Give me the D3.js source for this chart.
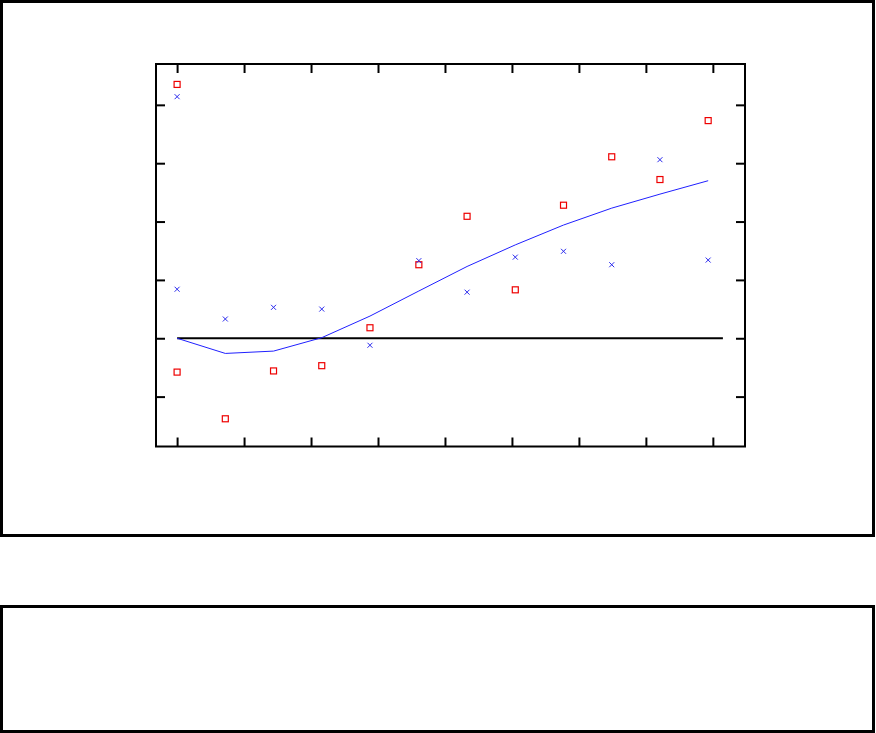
<!DOCTYPE html>
<html>
<head>
<meta charset="utf-8">
<script src="https://cdn.jsdelivr.net/npm/d3@7"></script>
<style>
	html, body { margin: 0; padding: 0; background: #fff; }
	svg { display: block; }
</style>
</head>
<body>
<svg id="chart" width="876" height="733"></svg>
<script>
// tick values (no labels in the original)
const xTicks = [0, 1, 2, 3, 4, 5, 6, 7, 8];
const yTicks = [-1, 0, 1, 2, 3, 4];

// red squares
const squareX = [0, 0, 0.72, 1.44, 2.16, 2.88, 3.61, 4.33, 5.05, 5.77, 6.49, 7.21, 7.93];
const squareY = [4.35, -0.58, -1.38, -0.56, -0.47, 0.18, 1.26, 2.09, 0.83, 2.28, 3.11, 2.72, 3.73];

// blue crosses
const crossX = [0, 0, 0.72, 1.44, 2.16, 2.88, 3.61, 4.33, 5.05, 5.77, 6.49, 7.21, 7.93];
const crossY = [4.14, 0.84, 0.33, 0.53, 0.50, -0.12, 1.33, 0.79, 1.39, 1.49, 1.26, 3.06, 1.34];

// blue trend line
const lineX = [0, 0.72, 1.44, 2.16, 2.88, 3.61, 4.33, 5.05, 5.77, 6.49, 7.21, 7.93];
const lineY = [0, -0.26, -0.22, 0.01, 0.38, 0.81, 1.23, 1.60, 1.94, 2.23, 2.47, 2.70];

// black reference line at zero
const zeroLine = [[0, 0], [8.15, 0]];

const svg = d3.select('#chart');

// outer frames
svg.append('rect')
	.attr('x', 1.5).attr('y', 1.5)
	.attr('width', 872).attr('height', 534)
	.attr('fill', 'none').attr('stroke', '#000').attr('stroke-width', 3);
svg.append('rect')
	.attr('x', 1.5).attr('y', 606.5)
	.attr('width', 872).attr('height', 125)
	.attr('fill', 'none').attr('stroke', '#000').attr('stroke-width', 3);

const plot = { left: 156, top: 64, right: 745, bottom: 446.5 };

const x = d3.scaleLinear().domain([-0.315, 8.48]).range([plot.left, plot.right]);
const y = d3.scaleLinear().domain([-1.855, 4.70]).range([plot.bottom, plot.top]);

const tickLen = 9;
const axisStyle = (g) => {
	g.select('.domain').remove();
	g.selectAll('text').remove();
	g.selectAll('line').attr('stroke', '#000').attr('stroke-width', 2);
};

// ticks point inward on all four sides
svg.append('g').attr('transform', `translate(0,${plot.bottom})`)
	.call(d3.axisTop(x).tickValues(xTicks).tickSize(tickLen)).call(axisStyle);
svg.append('g').attr('transform', `translate(0,${plot.top})`)
	.call(d3.axisBottom(x).tickValues(xTicks).tickSize(tickLen)).call(axisStyle);
svg.append('g').attr('transform', `translate(${plot.left},0)`)
	.call(d3.axisRight(y).tickValues(yTicks).tickSize(tickLen)).call(axisStyle);
svg.append('g').attr('transform', `translate(${plot.right},0)`)
	.call(d3.axisLeft(y).tickValues(yTicks).tickSize(tickLen)).call(axisStyle);

svg.append('rect')
	.attr('x', plot.left).attr('y', plot.top)
	.attr('width', plot.right - plot.left).attr('height', plot.bottom - plot.top)
	.attr('fill', 'none').attr('stroke', '#000').attr('stroke-width', 2);

// zero line
svg.append('path')
	.datum(zeroLine)
	.attr('d', d3.line().x((d) => x(d[0])).y((d) => y(d[1])))
	.attr('fill', 'none').attr('stroke', '#000').attr('stroke-width', 2);

// trend line
svg.append('path')
	.datum(lineX.map((v, i) => [v, lineY[i]]))
	.attr('d', d3.line().x((d) => x(d[0])).y((d) => y(d[1])))
	.attr('fill', 'none').attr('stroke', '#2020ff').attr('stroke-width', 1);

// squares
svg.append('g')
	.selectAll('rect')
	.data(squareX.map((v, i) => [v, squareY[i]]))
	.join('rect')
	.attr('x', (d) => x(d[0]) - 3)
	.attr('y', (d) => y(d[1]) - 3)
	.attr('width', 6).attr('height', 6)
	.attr('fill', 'none').attr('stroke', '#ee0000').attr('stroke-width', 1.2);

// crosses
svg.append('g')
	.selectAll('path')
	.data(crossX.map((v, i) => [v, crossY[i]]))
	.join('path')
	.attr('d', (d) => {
		const cx = x(d[0]), cy = y(d[1]), r = 2.5;
		return `M${cx - r},${cy - r}L${cx + r},${cy + r}M${cx - r},${cy + r}L${cx + r},${cy - r}`;
	})
	.attr('stroke', '#2a2aee').attr('stroke-width', 1).attr('fill', 'none');
</script>
</body>
</html>
